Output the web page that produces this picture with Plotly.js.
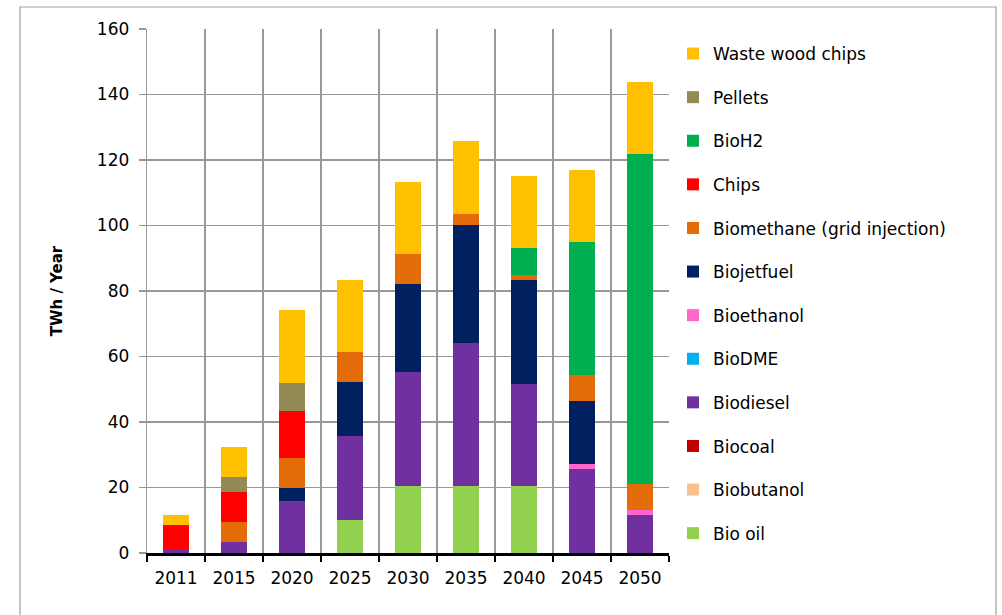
<!DOCTYPE html>
<html>
<head>
<meta charset="utf-8">
<script src="https://cdn.plot.ly/plotly-3.0.1.min.js"></script>
<style>
html,body{margin:0;padding:0;background:#fff;}
#chart{width:1002px;height:615px;}
</style>
</head>
<body>
<div id="chart"></div>
<script>
const years = ["2011","2015","2020","2025","2030","2035","2040","2045","2050"];

const bioOil      = [0, 0, 0, 10.1, 20.6, 20.6, 20.6, 0, 0];
const biobutanol  = [0, 0, 0, 0, 0, 0, 0, 0, 0];
const biocoal     = [0, 0, 0, 0, 0, 0, 0, 0, 0];
const biodiesel   = [1.2, 3.5, 15.9, 25.6, 34.7, 43.5, 31.1, 25.5, 11.6];
const bioDME      = [0, 0, 0, 0, 0, 0, 0, 0, 0];
const bioethanol  = [0, 0, 0, 0, 0, 0, 0, 1.7, 1.6];
const biojetfuel  = [0, 0, 4.0, 16.5, 26.9, 36.1, 31.8, 19.3, 0];
const biomethane  = [0, 6.1, 9.2, 9.1, 9.2, 3.4, 1.5, 7.9, 7.9];
const chips       = [7.2, 9.1, 14.4, 0, 0, 0, 0, 0, 0];
const bioH2       = [0, 0, 0, 0, 0, 0, 8.1, 40.5, 100.8];
const pellets     = [0, 4.5, 8.3, 0, 0, 0, 0, 0, 0];
const wasteWood   = [3.3, 9.1, 22.4, 22.1, 22.0, 22.1, 22.1, 22.0, 22.0];

const seriesNames = ["Bio oil","Biobutanol","Biocoal","Biodiesel","BioDME","Bioethanol",
  "Biojetfuel","Biomethane (grid injection)","Chips","BioH2","Pellets","Waste wood chips"];
const seriesValues = [bioOil, biobutanol, biocoal, biodiesel, bioDME, bioethanol,
  biojetfuel, biomethane, chips, bioH2, pellets, wasteWood];
const seriesColors = ["#92D050","#FAC090","#C00000","#7030A0","#00B0F0","#FF66CC",
  "#002060","#E36C09","#FF0000","#00B050","#948A54","#FFC000"];

const traces = seriesNames.map((n, i) => ({
  type: "bar",
  name: n,
  x: years,
  y: seriesValues[i],
  legendgroup: "g" + i,
  legendrank: seriesNames.length - i,
  marker: {color: seriesColors[i], line: {width: 0}},
  hoverinfo: "name+y"
}));

// plot area in pixels: x 147..669, y 29..553
const L = 147, R = 669, T = 29, B = 553;
const W = R - L, H = B - T;
const px = v => (v - L) / W;
const py = v => (B - v) / H;

const font = "DejaVu Sans, Arial, sans-serif";

const layout = {
  width: 1002,
  height: 615,
  margin: {l: L, r: 1002 - R, t: T, b: 615 - B, pad: 0},
  paper_bgcolor: "#ffffff",
  plot_bgcolor: "#ffffff",
  barmode: "stack",
  bargap: 0.55,
  showlegend: true,
  font: {family: font, color: "#000000", size: 17},
  xaxis: {
    type: "category",
    tickson: "boundaries",
    showgrid: true,
    gridcolor: "#989898",
    gridwidth: 1.3,
    showline: true,
    linecolor: "#000000",
    linewidth: 2.5,
    ticks: "outside",
    ticklen: 6,
    tickwidth: 2.5,
    tickcolor: "#000000",
    ticklabelstandoff: 8,
    tickfont: {family: font, size: 17, color: "#000000"},
    fixedrange: true,
    zeroline: false
  },
  yaxis: {
    range: [0, 160],
    dtick: 20,
    showgrid: true,
    gridcolor: "#989898",
    gridwidth: 1.3,
    showline: true,
    linecolor: "#989898",
    linewidth: 1.3,
    ticks: "outside",
    ticklen: 7,
    tickcolor: "#989898",
    tickwidth: 1.3,
    ticklabelstandoff: 6,
    tickfont: {family: font, size: 17, color: "#000000"},
    zeroline: false,
    fixedrange: true,
    title: {text: "<b>TWh / Year</b>", font: {family: font, size: 15, color: "#000000"}, standoff: 30}
  },
  legend: {
    x: px(673),
    xanchor: "left",
    y: py(36),
    yanchor: "top",
    traceorder: "grouped",
    tracegroupgap: 18.5,
    bgcolor: "rgba(0,0,0,0)",
    borderwidth: 0,
    font: {family: font, size: 17, color: "#000000"}
  },
  shapes: [{
    type: "rect",
    xref: "paper", yref: "paper",
    x0: px(20), x1: px(996), y0: py(640), y1: py(7),
    line: {color: "#A0A0A0", width: 1.2},
    fillcolor: "rgba(0,0,0,0)",
    layer: "below"
  }]
};

Plotly.newPlot("chart", traces, layout, {displayModeBar: false, staticPlot: true});
</script>
</body>
</html>
